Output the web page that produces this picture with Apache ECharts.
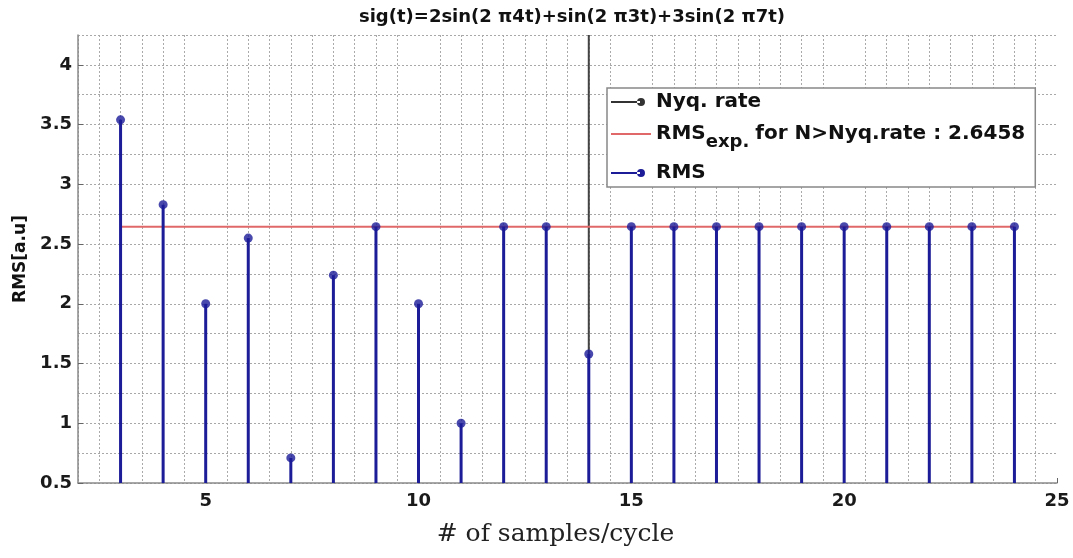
<!DOCTYPE html>
<html><head><meta charset="utf-8">
<script src="https://cdn.jsdelivr.net/npm/echarts@6/dist/echarts.min.js"></script>
<style>html,body{margin:0;padding:0;background:#fff}#c{width:1073px;height:558px}</style>
</head><body><div id="c"></div>
<script>
const samples = [3,4,5,6,7,8,9,10,11,12,13,14,15,16,17,18,19,20,21,22,23,24];
const rmsValues = [3.54,2.83,2.0,2.55,0.71,2.24,2.6458,2.0,1.0,2.6458,2.6458,1.58,2.6458,2.6458,2.6458,2.6458,2.6458,2.6458,2.6458,2.6458,2.6458,2.6458];
const nyqRate = 14;
const rmsExpected = 2.6458;
const xTickLabels = [5,10,15,20,25];
const yTickLabels = [0.5,1,1.5,2,2.5,3,3.5,4];
const xRange = [2,25];
const yRange = [0.5,4.25];
const titleText = 'sig(t)=2sin(2 \u03c04t)+sin(2 \u03c03t)+3sin(2 \u03c07t)';

const stemColor = '#1c1c98';
const boldFam = 'DejaVu Sans, Verdana, sans-serif';
const labelFont = {fontFamily:boldFam, fontWeight:'bold', fontSize:18, color:'#1a1a1a'};
const gridDot = '#a8a8a8';
const vColors = ['#aaa','#aaa','#aaa','#aaa','#aaa','#aaa','rgba(0,0,0,0)','#aaa','#aaa','#aaa'];

const stemData = samples.map((s,i)=>[s, rmsValues[i]]);
const lineIcon = 'path://M0,9 L29,9 L29,11 L0,11 Z M30,10 m-4,0 a4,4 0 1,0 8,0 a4,4 0 1,0 -8,0 M0,0 L0.01,0 M40,20 L40.01,20';
const plainIcon = 'path://M0,9 L40,9 L40,11 L0,11 Z M0,0 L0.01,0 M40,20 L40.01,20';

const chart = echarts.init(document.getElementById('c'));
chart.setOption({
  animation:false,
  backgroundColor:'#fff',
  title:{text:titleText, left:567, top:3, textAlign:'center',
    textStyle:{fontFamily:boldFam, fontWeight:'bold', fontSize:18, color:'#111'}},
  grid:{left:78, right:16, top:35, bottom:75, containLabel:false},
  legend:{
    orient:'vertical', left:607, top:88,
    backgroundColor:'#fff', borderColor:'#888', borderWidth:1.5, borderRadius:0,
    padding:[4,10,4,4], itemGap:12, itemWidth:40, itemHeight:20,
    textStyle:{fontFamily:boldFam, fontWeight:'bold', fontSize:20, color:'#111',
      rich:{sub:{fontFamily:boldFam, fontWeight:'bold', fontSize:18, color:'#111', padding:[16,6,0,0]},
            n:{fontFamily:boldFam, fontWeight:'bold', fontSize:20, color:'#111'}}},
    formatter:function(name){
      if(name==='RMSexp') return '{n|RMS}{sub|exp.}{n|for N>Nyq.rate : ' + rmsExpected.toFixed(4) + '}';
      return name;
    },
    data:[{name:'Nyq. rate', icon:lineIcon},{name:'RMSexp', icon:plainIcon},{name:'RMS', icon:lineIcon}]
  },
  xAxis:[
    {type:'value', min:xRange[0], max:xRange[1], position:'bottom',
      name:'# of samples/cycle', nameLocation:'middle', nameGap:39,
      nameTextStyle:{fontFamily:'DejaVu Serif, Liberation Serif, serif', fontSize:25, color:'#222', padding:[0,24,0,0]},
      axisLine:{show:true, onZero:false, lineStyle:{color:'#8a8a8a', width:1.5}},
      axisTick:{show:true, inside:true, length:5, customValues:xTickLabels, lineStyle:{color:'#666'}},
      axisLabel:{show:true, customValues:xTickLabels, margin:9, ...labelFont},
      splitLine:{show:false}},
    {type:'value', min:xRange[0], max:xRange[1], interval:0.5, position:'bottom',
      axisLine:{show:false}, axisTick:{show:false}, axisLabel:{show:false},
      splitLine:{show:true, lineStyle:{color:vColors, type:[2,2], width:1}}}
  ],
  yAxis:[
    {type:'value', min:yRange[0], max:yRange[1], position:'left',
      name:'RMS[a.u]', nameLocation:'middle', nameGap:47, nameRotate:90,
      nameTextStyle:{fontFamily:boldFam, fontWeight:'bold', fontSize:17, color:'#111'},
      axisLine:{show:true, onZero:false, lineStyle:{color:'#8a8a8a', width:1.5}},
      axisTick:{show:true, inside:true, length:5, customValues:yTickLabels, lineStyle:{color:'#666'}},
      axisLabel:{show:true, customValues:yTickLabels, margin:6, ...labelFont},
      splitLine:{show:false}},
    {type:'value', min:yRange[0], max:yRange[1], interval:0.25, position:'left',
      axisLine:{show:false}, axisTick:{show:false}, axisLabel:{show:false},
      splitLine:{show:true, lineStyle:{color:gridDot, type:[2,2], width:1}}}
  ],
  series:[
    {name:'Nyq. rate', type:'line', xAxisIndex:0, yAxisIndex:0, symbol:'none',
      color:'#333', lineStyle:{color:'#444', width:2}, z:3,
      data:[[nyqRate, yRange[1]],[nyqRate, rmsValues[samples.indexOf(nyqRate)]]]},
    {name:'RMSexp', type:'line', xAxisIndex:0, yAxisIndex:0, symbol:'none',
      color:'#e06868', lineStyle:{color:'#e06868', width:2}, z:3,
      data:[[samples[0], rmsExpected],[samples[samples.length-1], rmsExpected]]},
    {name:'RMS', type:'bar', xAxisIndex:0, yAxisIndex:0, barWidth:3, color:stemColor,
      itemStyle:{color:stemColor}, z:4, data:stemData},
    {name:'RMS', type:'scatter', xAxisIndex:0, yAxisIndex:0, symbol:'circle', symbolSize:9,
      itemStyle:{color:stemColor}, z:5, data:stemData}
  ]
});
</script></body></html>
